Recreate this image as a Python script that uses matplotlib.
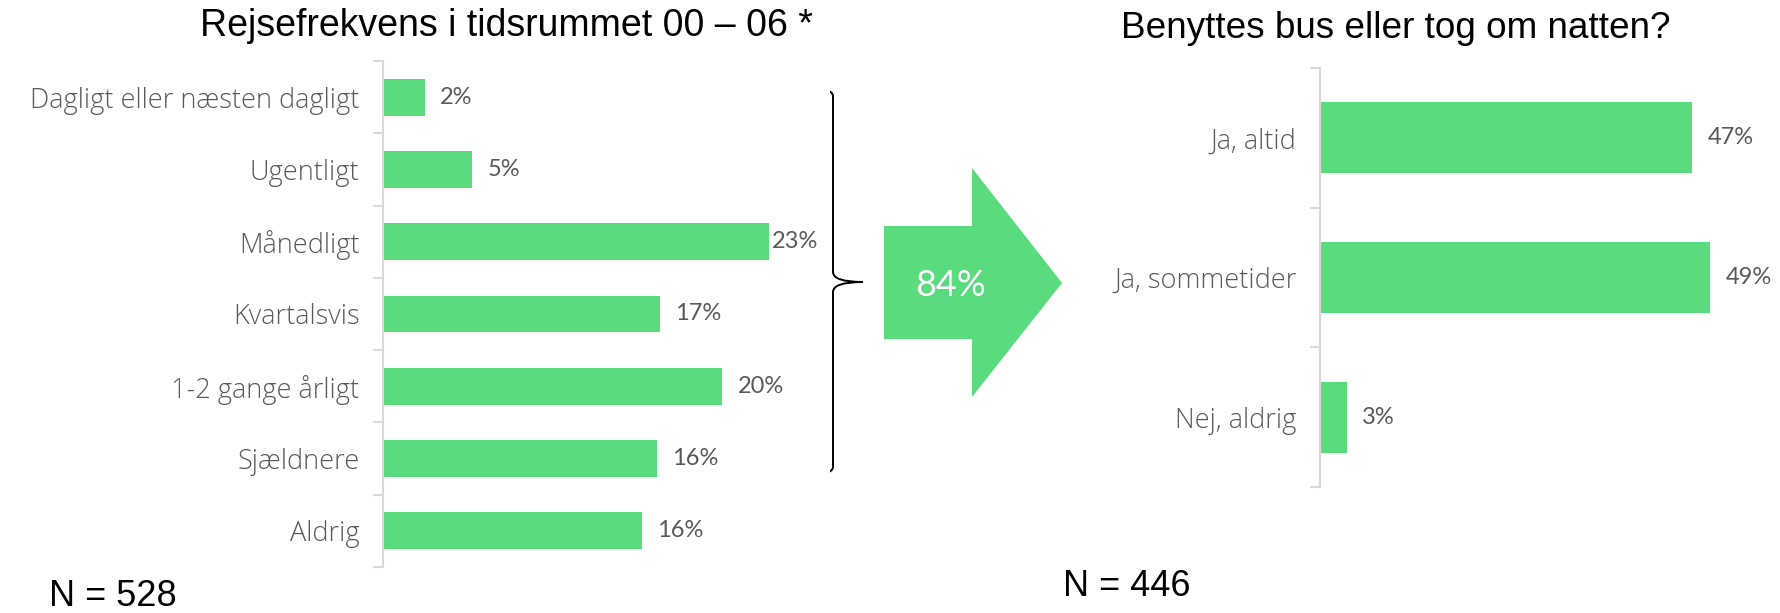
import matplotlib
matplotlib.use('Agg')
import matplotlib.pyplot as plt
from matplotlib.path import Path
from matplotlib.patches import PathPatch, Polygon

# data
freq_cats = ['Dagligt eller næsten dagligt', 'Ugentligt', 'Månedligt', 'Kvartalsvis',
             '1-2 gange årligt', 'Sjældnere', 'Aldrig']
freq_vals = [2.5, 5.3, 23.0, 16.5, 20.2, 16.3, 15.4]
freq_labels = ['2%', '5%', '23%', '17%', '20%', '16%', '16%']

use_cats = ['Ja, altid', 'Ja, sommetider', 'Nej, aldrig']
use_vals = [47.1, 49.4, 3.4]
use_labels = ['47%', '49%', '3%']

share_text = '84%'
n_left = 'N = 528'
n_right = 'N = 446'

green = '#5ADB7E'
grey = '#595959'
spine_col = '#d9d9d9'
lab_font = ['Open Sans', 'DejaVu Sans']
num_font = ['Lato', 'DejaVu Sans']
head_font = ['Liberation Sans', 'DejaVu Sans']

W, H = 1781, 613
fig = plt.figure(figsize=(W / 100, H / 100), dpi=100)


def px_axes(x0, y0, x1, y1):
    return fig.add_axes([x0 / W, 1 - y1 / H, (x1 - x0) / W, (y1 - y0) / H])


def bar_panel(ax, cats, vals, labels, xmax, offsets):
    n = len(cats)
    ax.barh(range(n), vals, height=0.51, color=green)
    ax.set_ylim(n - 0.5, -0.5)
    ax.set_xlim(0, xmax)
    ax.set_yticks(range(n))
    ax.set_yticklabels(cats, family=lab_font, fontsize=19.5, weight='light', color=grey)
    ax.set_yticks([i - 0.5 for i in range(n + 1)], minor=True)
    ax.tick_params(axis='y', which='major', length=0, pad=17)
    ax.tick_params(axis='y', which='minor', length=7, width=1.5, color=spine_col)
    ax.set_xticks([])
    for s in ['top', 'right', 'bottom']:
        ax.spines[s].set_visible(False)
    ax.spines['left'].set_color(spine_col)
    ax.spines['left'].set_linewidth(1.5)
    for i, (v, t) in enumerate(zip(vals, labels)):
        ax.annotate(t, (v, i), xytext=(offsets[i], 0), textcoords='offset points',
                    va='center', ha='left', family=num_font, fontsize=17, color=grey)


ax1 = px_axes(383, 61, 830, 567)
bar_panel(ax1, freq_cats, freq_vals, freq_labels, (830 - 383) / 16.8,
          [11, 11, 1.5, 11, 11, 11, 11])

ax2 = px_axes(1320, 68, 1775, 487)
bar_panel(ax2, use_cats, use_vals, use_labels, (1775 - 1320) / 7.9,
          [11, 11, 11])

# overlay in pixel coordinates for brace, arrow and texts
ov = fig.add_axes([0, 0, 1, 1], zorder=-1)
ov.set_xlim(0, W)
ov.set_ylim(H, 0)
ov.axis('off')

verts = [(804, 87), (833, 88), (833, 96),
         (833, 272), (833, 282), (863, 282),
         (833, 282), (833, 292),
         (833, 467), (833, 475), (804, 476)]
codes = [Path.MOVETO, Path.CURVE3, Path.CURVE3,
         Path.LINETO, Path.CURVE3, Path.CURVE3,
         Path.CURVE3, Path.CURVE3,
         Path.LINETO, Path.CURVE3, Path.CURVE3]
ov.add_patch(PathPatch(Path(verts, codes), fill=False, color='black', lw=1.4))

ov.add_patch(Polygon([(884, 226), (972, 226), (972, 168), (1062, 283),
                      (972, 397), (972, 339), (884, 339)],
                     closed=True, color=green, lw=0))
ov.text(951, 285, share_text, ha='center', va='center', color='white',
        family=num_font, fontsize=26)

fig.text(506 / W, 1 - 26 / H, 'Rejsefrekvens i tidsrummet 00 – 06 *', ha='center',
         va='center', family=head_font, fontsize=27)
fig.text(1396 / W, 1 - 28 / H, 'Benyttes bus eller tog om natten?', ha='center',
         va='center', family=head_font, fontsize=26.6)
fig.text(49 / W, 1 - 596 / H, n_left, ha='left', va='center', family=head_font, fontsize=26)
fig.text(1063 / W, 1 - 587 / H, n_right, ha='left', va='center', family=head_font, fontsize=26)

fig.savefig('out.png', dpi=100)
